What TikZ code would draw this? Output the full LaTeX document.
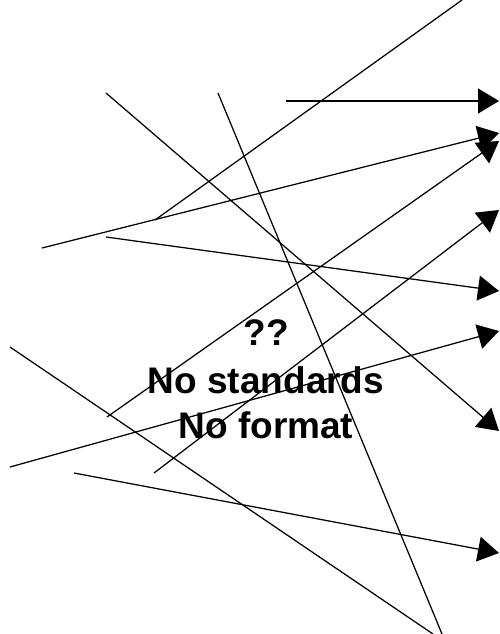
\documentclass[tikz,border=0pt]{standalone}
\usepackage{fontspec}
\setmainfont{Liberation Sans}
\usetikzlibrary{arrows.meta}
\begin{document}
\begin{tikzpicture}[x=1pt,y=-1pt,
  ln/.style={line width=1.25pt, black},
  arr/.style={ln, -{Triangle[length=21pt,width=25pt]}},
  lbl/.style={font=\fontsize{37}{44}\selectfont\bfseries, inner sep=0pt}]
\useasboundingbox (0,0) rectangle (499,634);
% endpoints
\coordinate (l1a) at (155,220);  \coordinate (l1b) at (462,0);
\coordinate (a2a) at (286,101);  \coordinate (a2b) at (499,101);
\coordinate (a3a) at (42,248);   \coordinate (a3b) at (499,133);
\coordinate (a4a) at (106,93);   \coordinate (a4b) at (499,431);
\coordinate (l5a) at (218,93);   \coordinate (l5b) at (442,634);
\coordinate (a6a) at (106,237);  \coordinate (a6b) at (499,291);
\coordinate (a7a) at (107,417);  \coordinate (a7b) at (499,141);
\coordinate (a8a) at (154,473);  \coordinate (a8b) at (499,210);
\coordinate (a9a) at (10,467);   \coordinate (a9b) at (499,331);
\coordinate (a10a) at (74,473);  \coordinate (a10b) at (499,553);
\coordinate (l11a) at (10,347);  \coordinate (l11b) at (433,634);
% text
\node[lbl, anchor=base] (q) at (266,345) {??};
\node[lbl, anchor=base] (ns) at (266,393) {No standards};
\node[lbl, anchor=base] (nf) at (266,438) {No format};
% lines
\draw[ln] (l1a) -- (l1b);
\draw[arr] (a2a) -- (a2b);
\draw[arr] (a3a) -- (a3b);
\draw[arr] (a4a) -- (a4b);
\draw[ln] (l5a) -- (l5b);
\draw[arr] (a6a) -- (a6b);
\draw[arr] (a7a) -- (a7b);
\draw[arr] (a8a) -- (a8b);
\draw[arr] (a9a) -- (a9b);
\draw[arr] (a10a) -- (a10b);
\draw[ln] (l11a) -- (l11b);
\end{tikzpicture}
\end{document}
